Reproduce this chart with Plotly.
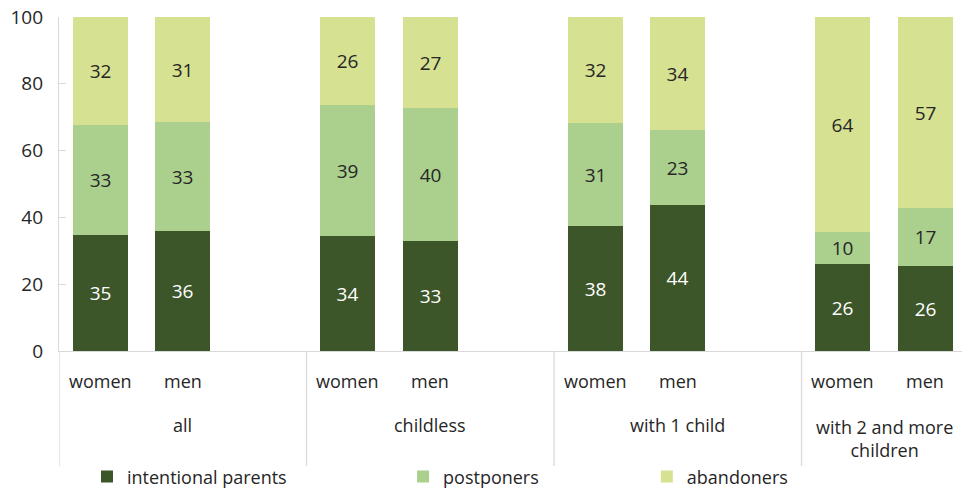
import plotly.graph_objects as go

# ---- data ----
groups = ["all", "childless", "with 1 child", "with 2 and more<br>children"]
sexes = ["women", "men"]
bar_x = [0, 1, 3, 4, 6, 7, 9, 10]
bar_sex = ["women", "men"] * 4

intentional = [34.6, 35.8, 34.4, 32.8, 37.5, 43.6, 26.0, 25.6]
postponers = [33.0, 32.8, 39.2, 39.9, 30.7, 22.6, 9.6, 17.1]
abandoners = [32.4, 31.4, 26.4, 27.3, 31.8, 33.8, 64.4, 57.3]

intentional_lbl = ["35", "36", "34", "33", "38", "44", "26", "26"]
postponers_lbl = ["33", "33", "39", "40", "31", "23", "10", "17"]
abandoners_lbl = ["32", "31", "26", "27", "32", "34", "64", "57"]

series_names = ["intentional parents", "postponers", "abandoners"]
colors = ["#3c5629", "#abd08e", "#d6e192"]
label_colors = ["#ffffff", "#262626", "#262626"]

FONT = "Open Sans"
TXT = "#262626"
GRID = "#d9d9d9"

fig = go.Figure()
series = [(intentional, intentional_lbl), (postponers, postponers_lbl), (abandoners, abandoners_lbl)]
for i, ((vals, lbls), name) in enumerate(zip(series, series_names)):
    fig.add_trace(go.Bar(
        x=bar_x, y=vals, name=name,
        text=lbls, texttemplate="%{text}",
        textposition="inside", insidetextanchor="middle", textangle=0,
        insidetextfont=dict(family=FONT, size=19, color=label_colors[i]),
        marker=dict(color=colors[i], line=dict(width=0)),
        width=0.667,
        legend="legend" if i == 0 else f"legend{i+1}",
        hoverinfo="skip",
    ))

# x labels (women / men) and group labels
for xv, s in zip(bar_x, bar_sex):
    fig.add_annotation(x=xv, y=-0.089, xref="x", yref="paper", text=s, showarrow=False,
                       font=dict(family=FONT, size=18, color=TXT), yanchor="middle")
group_centers = [1, 4, 7, 9.5]
group_y = [-0.222, -0.222, -0.222, -0.262]
for gx, gy, g in zip(group_centers, group_y, groups):
    fig.add_annotation(x=gx, y=gy, xref="x", yref="paper", text=g, showarrow=False,
                       font=dict(family=FONT, size=18, color=TXT), yanchor="middle")

# group separator lines below the axis
for sx in [-0.5, 2.5, 5.5, 8.5]:
    fig.add_shape(type="line", x0=sx, x1=sx, y0=0, y1=-0.344, xref="x", yref="paper",
                  line=dict(color=GRID, width=1.3))

legend_common = dict(orientation="h", yanchor="middle", y=-0.377, xanchor="left",
                     font=dict(family=FONT, size=18, color=TXT), bgcolor="rgba(0,0,0,0)",
                     itemclick=False, itemdoubleclick=False)
fig.update_layout(
    width=962, height=490,
    margin=dict(l=59, r=0, t=17, b=139, autoexpand=False),
    paper_bgcolor="white", plot_bgcolor="white",
    barmode="stack", bargap=0,
    font=dict(family=FONT, size=18, color=TXT),
    showlegend=True,
    legend=dict(x=0.031, **legend_common),
    legend2=dict(x=0.381, **legend_common),
    legend3=dict(x=0.651, **legend_common),
    xaxis=dict(range=[-0.5, 10.445], showticklabels=False, ticks="", showgrid=False,
               zeroline=False, showline=True, linecolor=GRID, linewidth=1.3, fixedrange=True),
    yaxis=dict(range=[0, 100], tickvals=[0, 20, 40, 60, 80, 100], showgrid=False,
               zeroline=False, showline=True, linecolor=GRID, linewidth=1.3,
               ticks="inside", ticklen=7, tickcolor=GRID, tickwidth=1.3,
               ticklabelstandoff=11,
               tickfont=dict(family=FONT, size=19, color=TXT), fixedrange=True),
)

fig.write_html(
    "out.html",
    config={"displayModeBar": False},
    post_script="document.body.style.margin='0';document.body.style.overflow='hidden';",
)
